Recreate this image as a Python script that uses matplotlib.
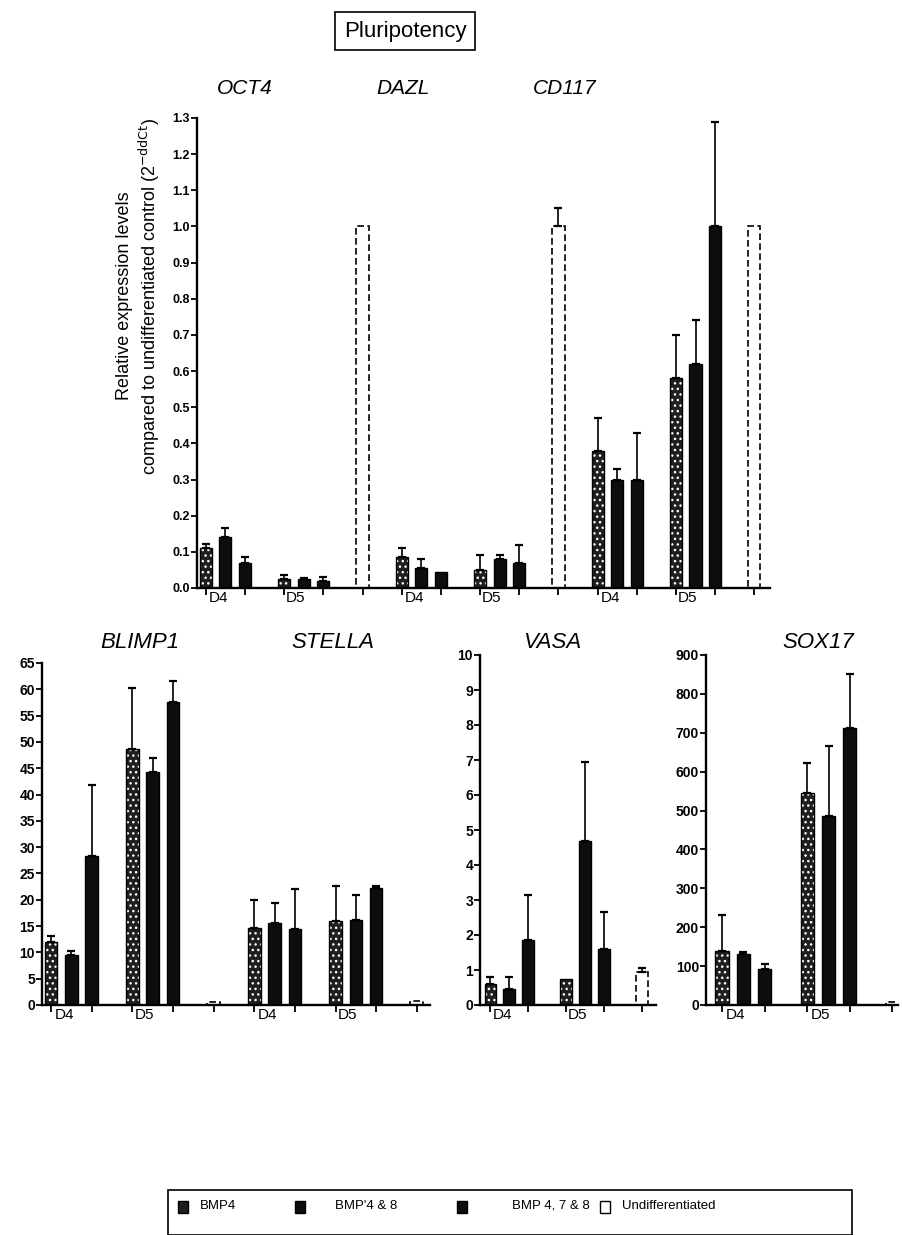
import matplotlib.pyplot as plt
from matplotlib.patches import Rectangle

plt.rcParams['font.family'] = ['Liberation Sans', 'DejaVu Sans']

W, H = 903, 1235

treatments = ["BMP4", "BMP'4 & 8", "BMP 4, 7 & 8", "Undifferentiated"]
days = ["D4", "D5"]

# values per gene: D4 (BMP4, BMP4&8, BMP4,7&8), D5 (same), undifferentiated
oct4_mean = [0.11, 0.14, 0.07, 0.025, 0.025, 0.02, 1.0]
oct4_err = [0.012, 0.025, 0.015, 0.01, 0.003, 0.01, 0.0]
dazl_mean = [0.085, 0.055, 0.045, 0.05, 0.08, 0.07, 1.0]
dazl_err = [0.025, 0.025, 0.0, 0.04, 0.01, 0.05, 0.05]
cd117_mean = [0.38, 0.30, 0.30, 0.58, 0.62, 1.0, 1.0]
cd117_err = [0.09, 0.03, 0.13, 0.12, 0.12, 0.29, 0.0]

blimp1_mean = [11.9, 9.5, 28.3, 48.7, 44.2, 57.6, 0.6]
blimp1_err = [1.3, 0.7, 13.5, 11.5, 2.7, 3.9, 0.0]
stella_mean = [14.6, 15.5, 14.5, 15.9, 16.2, 22.2, 0.7]
stella_err = [5.4, 3.8, 7.5, 6.7, 4.8, 0.5, 0.0]
vasa_mean = [0.6, 0.45, 1.85, 0.75, 4.7, 1.6, 0.95]
vasa_err = [0.2, 0.35, 1.3, 0.0, 2.25, 1.05, 0.1]
sox17_mean = [140, 130, 92, 545, 485, 712, 8]
sox17_err = [92, 7, 13, 77, 180, 140, 0]

SLOTS = [0, 1, 2, 4, 5, 6, 8]
SERIES = [0, 1, 2, 0, 1, 2, 3]
GENE_STEP = 10
BAR_W = 0.62


fig = plt.figure(figsize=(W / 100, H / 100), dpi=100)


def px_axes(left, top, right, bottom):
    return fig.add_axes([left / W, 1 - bottom / H, (right - left) / W, (bottom - top) / H])


def draw_bar(ax, x, h, series):
    if series == 0:
        ax.bar(x, h, BAR_W, color='#1f1f1f', edgecolor='white', hatch='...', lw=0)
        ax.bar(x, h, BAR_W, fill=False, edgecolor='black', lw=1)
    elif series == 3:
        ax.bar(x, h, BAR_W, color='white', edgecolor='black', lw=1.2, ls=(0, (4, 2)))
    else:
        ax.bar(x, h, BAR_W, color='#0d0d0d', edgecolor='black', lw=1)


def draw_gene(ax, offset, means, errs):
    for i, (m, e) in enumerate(zip(means, errs)):
        x = offset + SLOTS[i]
        draw_bar(ax, x, m, SERIES[i])
        if e > 0:
            ax.errorbar(x, m, yerr=[[0], [e]], fmt='none', ecolor='black',
                        elinewidth=1.2, capsize=3, capthick=1.6, clip_on=False)


def style_axes(ax, ngenes, ymax, ystep, fmt, fs):
    for s in ['top', 'right']:
        ax.spines[s].set_visible(False)
    for s in ['left', 'bottom']:
        ax.spines[s].set_linewidth(1.7)
    ax.set_ylim(0, ymax)
    n = int(round(ymax / ystep))
    ticks = [k * ystep for k in range(n + 1)]
    ax.set_yticks(ticks)
    ax.set_yticklabels([fmt.format(t) for t in ticks], fontsize=fs, fontweight='bold')
    ax.tick_params(axis='y', direction='out', length=4, width=1.3, pad=1)
    major = []
    minor = []
    labels = []
    for g in range(ngenes):
        off = g * GENE_STEP
        major += [off + s for s in [0, 2, 4, 6, 8]]
        minor += [off + 0.65, off + 4.6]
        labels += days
    ax.set_xticks(major)
    ax.set_xticklabels([])
    ax.set_xticks(minor, minor=True)
    ax.set_xticklabels(labels, minor=True, fontsize=11)
    ax.tick_params(axis='x', which='major', direction='out', length=5, width=1.3)
    ax.tick_params(axis='x', which='minor', length=0, pad=2)


# top panel: pluripotency genes
ax_top = px_axes(197, 118, 770, 588)
for g, (m, e) in enumerate([(oct4_mean, oct4_err), (dazl_mean, dazl_err), (cd117_mean, cd117_err)]):
    draw_gene(ax_top, g * GENE_STEP, m, e)
ax_top.set_xlim(-0.45, 28.8)
style_axes(ax_top, 3, 1.3, 0.1, '{:.1f}', 9)

# bottom panels
ax_bs = px_axes(42, 663, 430, 1005)
draw_gene(ax_bs, 0, blimp1_mean, blimp1_err)
draw_gene(ax_bs, GENE_STEP, stella_mean, stella_err)
ax_bs.set_xlim(-0.45, 18.65)
style_axes(ax_bs, 2, 65, 5, '{:g}', 10)

ax_v = px_axes(480, 655, 656, 1005)
draw_gene(ax_v, 0, vasa_mean, vasa_err)
ax_v.set_xlim(-0.55, 8.74)
style_axes(ax_v, 1, 10, 1, '{:g}', 10)

ax_s = px_axes(706, 655, 898, 1005)
draw_gene(ax_s, 0, sox17_mean, sox17_err)
ax_s.set_xlim(-0.75, 8.26)
style_axes(ax_s, 1, 900, 100, '{:g}', 10)

# titles
fig.text(405 / W, 1 - 31 / H, 'Pluripotency', ha='center', va='center', fontsize=16,
         bbox=dict(boxstyle='square,pad=0.4', fc='white', ec='black', lw=1.2))
for name, x, y, fs in [('OCT4', 245, 88, 15), ('DAZL', 403, 88, 15), ('CD117', 565, 88, 15),
                       ('BLIMP1', 140, 642, 16), ('STELLA', 333, 642, 16),
                       ('VASA', 552, 642, 16), ('SOX17', 818, 642, 16)]:
    fig.text(x / W, 1 - y / H, name, ha='center', va='center', fontsize=fs, style='italic')

fig.text(139 / W, 1 - 296 / H,
         'Relative expression levels\ncompared to undifferentiated control (2$^{-\\mathrm{ddCt}}$)',
         ha='center', va='center', rotation=90, fontsize=13, linespacing=1.15)

# legend drawn by hand (box runs off the bottom edge as in the original)
fig.patches.append(Rectangle((168 / W, 0), (852 - 168) / W, 1 - 1190 / H,
                             transform=fig.transFigure, fill=False, ec='black', lw=1.2))
legend_pos = [(183, 200), (300, 335), (462, 512), (605, 622)]
for k, (sx, tx) in enumerate(legend_pos):
    fc = ['#1f1f1f', '#0d0d0d', '#0d0d0d', 'white'][k]
    fig.patches.append(Rectangle(((sx - 5) / W, 1 - 1213 / H), 10 / W, 12 / H,
                                 transform=fig.transFigure, fc=fc, ec='black', lw=1))
    fig.text(tx / W, 1 - 1206 / H, treatments[k], ha='left', va='center', fontsize=9.5)

fig.savefig('out.png', dpi=100)
